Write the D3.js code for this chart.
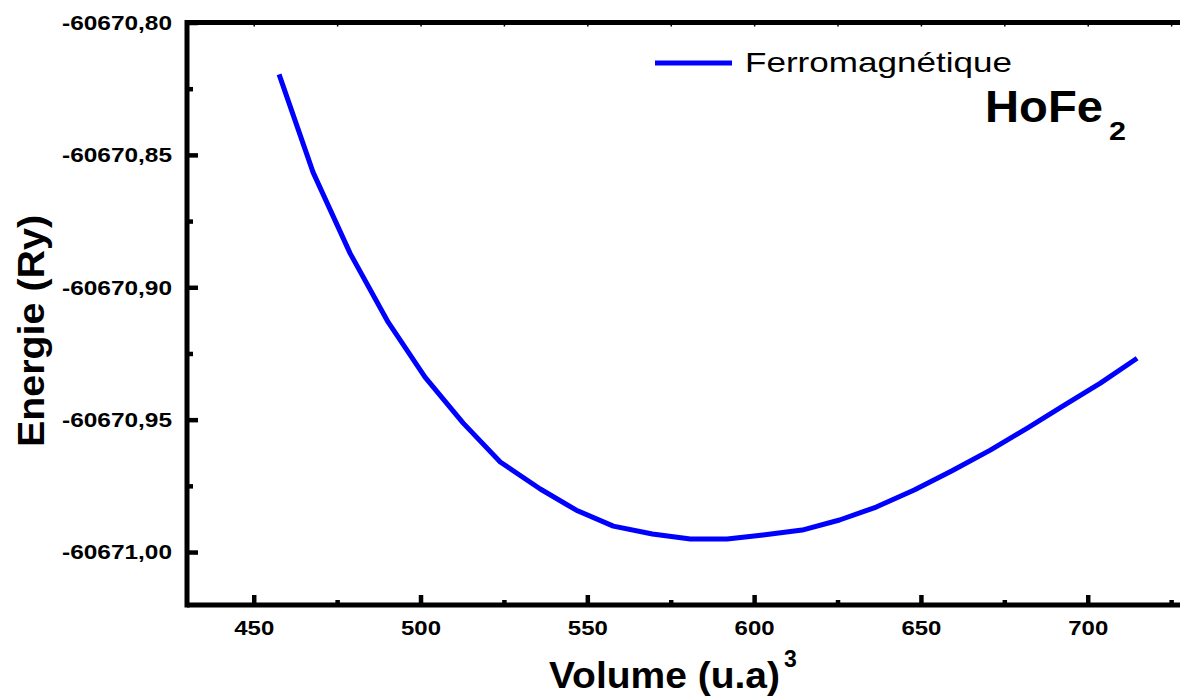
<!DOCTYPE html>
<html>
<head>
<meta charset="utf-8">
<script src="https://cdn.jsdelivr.net/npm/d3@7"></script>
<style>
  body { margin: 0; background: #fff; }
  svg { display: block; font-family: "Liberation Sans", Arial, sans-serif; }
</style>
</head>
<body>
<div id="chart-area"></div>
<script>
// volume (u.a)^3 and total energy (Ry)
var volumes = [457.6, 467.8, 478.9, 490.3, 501.4, 512.8, 523.9, 535.9, 546.7, 557.8, 569.5, 580.9,
               591.9, 602.7, 614.4, 625.6, 636.6, 648.0, 659.2, 670.8, 681.9, 693.0, 703.8, 714.8];
var energies = [-60670.8196, -60670.8566, -60670.8872, -60670.9132, -60670.9340, -60670.9513,
                -60670.9660, -60670.9762, -60670.9842, -60670.9902, -60670.9932, -60670.9951,
                -60670.9951, -60670.9936, -60670.9917, -60670.9879, -60670.9830, -60670.9766,
                -60670.9694, -60670.9615, -60670.9532, -60670.9445, -60670.9362, -60670.9268];

var xMajor = [450, 500, 550, 600, 650, 700];
var xMinor = [475, 525, 575, 625, 675, 725];
var yMajor = [-60670.80, -60670.85, -60670.90, -60670.95, -60671.00];
var yMinor = [-60670.825, -60670.875, -60670.925, -60670.975];
var yLabels = ["-60670,80", "-60670,85", "-60670,90", "-60670,95", "-60671,00"];

var seriesName = "Ferromagnétique";

var width = 1180, height = 697;

var svg = d3.select("#chart-area")
    .append("svg")
        .attr("width", width)
        .attr("height", height);

var x = d3.scaleLinear().domain([430, 731]).range([187, 187 + 301 * 3.336]);
var y = d3.scaleLinear().domain([-60671.020, -60670.80]).range([605, 22.5]);

var x0 = x.range()[0], x1 = x.range()[1];
var y0 = y.range()[0], y1 = y.range()[1];

// bottom axis: major ticks inward with labels
var xAxis = svg.append("g")
    .attr("transform", "translate(0," + y0 + ")")
    .call(d3.axisBottom(x).tickValues(xMajor).tickSize(-10).tickPadding(16).tickFormat(d3.format("d")));
xAxis.select(".domain").remove();
xAxis.selectAll("line").attr("stroke", "#000").attr("stroke-width", 4.5);
xAxis.selectAll("text")
    .attr("fill", "#000")
    .style("font-size", "20px").style("font-weight", "bold")
    .attr("textLength", 40).attr("lengthAdjust", "spacingAndGlyphs");

svg.append("g")
    .attr("transform", "translate(0," + y0 + ")")
    .call(d3.axisBottom(x).tickValues(xMinor).tickSize(-5).tickFormat(""))
    .call(function(g){ g.select(".domain").remove(); })
    .selectAll("line").attr("stroke", "#000").attr("stroke-width", 4.5);

// top axis: tiny notches only
svg.append("g")
    .attr("transform", "translate(0," + y1 + ")")
    .call(d3.axisTop(x).tickValues(xMajor.concat(xMinor)).tickSize(-4).tickFormat(""))
    .call(function(g){ g.select(".domain").remove(); })
    .selectAll("line").attr("stroke", "#000").attr("stroke-width", 1.5);

// left axis
var yAxis = svg.append("g")
    .attr("transform", "translate(" + x0 + ",0)")
    .call(d3.axisLeft(y).tickValues(yMajor).tickSize(-11).tickPadding(15)
        .tickFormat(function(d, i){ return yLabels[i]; }));
yAxis.select(".domain").remove();
yAxis.selectAll("line").attr("stroke", "#000").attr("stroke-width", 4.5);
yAxis.selectAll("text")
    .attr("fill", "#000")
    .style("font-size", "21px").style("font-weight", "bold")
    .attr("textLength", 110).attr("lengthAdjust", "spacingAndGlyphs");

svg.append("g")
    .attr("transform", "translate(" + x0 + ",0)")
    .call(d3.axisLeft(y).tickValues(yMinor).tickSize(-6).tickFormat(""))
    .call(function(g){ g.select(".domain").remove(); })
    .selectAll("line").attr("stroke", "#000").attr("stroke-width", 4.5);

// frame lines
svg.append("line").attr("x1", x0).attr("x2", x1).attr("y1", y0).attr("y2", y0)
    .attr("stroke", "#000").attr("stroke-width", 5);
svg.append("line").attr("x1", x0 - 2).attr("x2", x1).attr("y1", y1).attr("y2", y1)
    .attr("stroke", "#000").attr("stroke-width", 5);
svg.append("line").attr("x1", x0).attr("x2", x0).attr("y1", y1 - 2.5).attr("y2", y0 + 2.5)
    .attr("stroke", "#000").attr("stroke-width", 5);

// energy curve
var data = volumes.map(function(v, i){ return { v: v, e: energies[i] }; });
var line = d3.line()
    .x(function(d){ return x(d.v); })
    .y(function(d){ return y(d.e); });

svg.append("path")
    .datum(data)
    .attr("d", line)
    .attr("fill", "none")
    .attr("stroke", "#0000ff")
    .attr("stroke-width", 5)
    .attr("stroke-linejoin", "round");

// legend
svg.append("line")
    .attr("x1", 655).attr("x2", 732).attr("y1", 63).attr("y2", 63)
    .attr("stroke", "#0000ff").attr("stroke-width", 5);
svg.append("text")
    .attr("x", 745).attr("y", 72)
    .style("font-size", "28px")
    .attr("textLength", 267).attr("lengthAdjust", "spacingAndGlyphs")
    .text(seriesName);

// compound label
svg.append("text")
    .attr("x", 985).attr("y", 122)
    .style("font-size", "44px").style("font-weight", "bold")
    .attr("textLength", 118).attr("lengthAdjust", "spacingAndGlyphs")
    .text("HoFe");
svg.append("text")
    .attr("x", 1109).attr("y", 140)
    .style("font-size", "26px").style("font-weight", "bold")
    .attr("textLength", 17).attr("lengthAdjust", "spacingAndGlyphs")
    .text("2");

// axis titles
svg.append("text")
    .attr("x", 549).attr("y", 688)
    .style("font-size", "36px").style("font-weight", "bold")
    .attr("textLength", 231).attr("lengthAdjust", "spacingAndGlyphs")
    .text("Volume (u.a)");
svg.append("text")
    .attr("x", 784).attr("y", 667)
    .style("font-size", "23px").style("font-weight", "bold")
    .text("3");

svg.append("text")
    .attr("transform", "translate(44,331) rotate(-90)")
    .attr("text-anchor", "middle")
    .style("font-size", "37px").style("font-weight", "bold")
    .attr("textLength", 232).attr("lengthAdjust", "spacingAndGlyphs")
    .text("Energie (Ry)");
</script>
</body>
</html>
